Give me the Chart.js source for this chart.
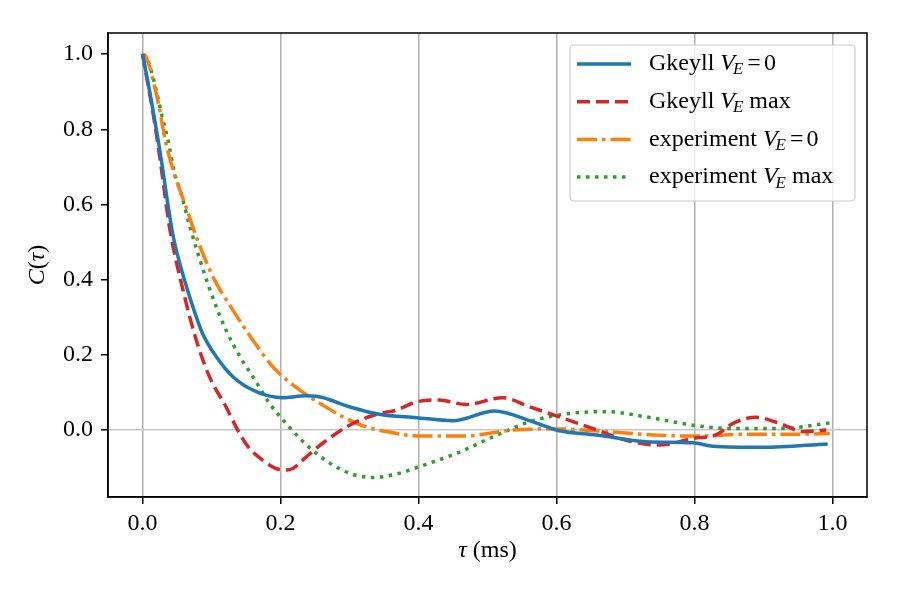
<!DOCTYPE html>
<html lang="en">
<head>
<meta charset="UTF-8">
<title>C(tau)</title>
<script src="https://cdn.jsdelivr.net/npm/chart.js@4.4.1/dist/chart.umd.min.js"></script>
<style>body{margin:0;background:#fff}</style>
</head>
<body>
<canvas id="chart" width="900" height="600"></canvas>
<script>
// valores (tau en ms)
const xTicks = [0, 0.2, 0.4, 0.6, 0.8, 1.0];
const yTicks = [0, 0.2, 0.4, 0.6, 0.8, 1.0];

const gk0Tau = [0, 0.010, 0.025, 0.044, 0.058, 0.073, 0.087, 0.107, 0.131, 0.165, 0.203, 0.237, 0.252, 0.300, 0.343, 0.397, 0.450, 0.510, 0.566, 0.604, 0.658, 0.730, 0.798, 0.827, 0.899, 0.993];
const gk0C   = [1.0, 0.904, 0.745, 0.520, 0.417, 0.328, 0.257, 0.195, 0.142, 0.102, 0.086, 0.091, 0.090, 0.062, 0.042, 0.033, 0.025, 0.051, 0.022, -0.002, -0.013, -0.031, -0.034, -0.043, -0.046, -0.037];

const gkMaxTau = [0, 0.005, 0.017, 0.027, 0.039, 0.061, 0.078, 0.097, 0.121, 0.138, 0.153, 0.174, 0.199, 0.208, 0.218, 0.237, 0.261, 0.300, 0.343, 0.368, 0.397, 0.430, 0.469, 0.522, 0.561, 0.604, 0.653, 0.701, 0.749, 0.798, 0.831, 0.856, 0.889, 0.923, 0.957, 0.991];
const gkMaxC   = [1.0, 0.949, 0.824, 0.700, 0.541, 0.355, 0.239, 0.142, 0.062, 0.000, -0.044, -0.080, -0.105, -0.106, -0.102, -0.072, -0.035, 0.013, 0.044, 0.053, 0.075, 0.080, 0.068, 0.086, 0.062, 0.035, 0.004, -0.027, -0.040, -0.022, -0.013, 0.018, 0.034, 0.018, -0.004, 0.000];

const exp0Tau = [0, 0.005, 0.022, 0.034, 0.049, 0.063, 0.078, 0.102, 0.131, 0.160, 0.189, 0.218, 0.257, 0.310, 0.353, 0.406, 0.464, 0.537, 0.604, 0.672, 0.740, 0.802, 0.875, 0.947, 0.996];
const exp0C   = [1.0, 0.993, 0.878, 0.762, 0.665, 0.594, 0.514, 0.408, 0.319, 0.239, 0.168, 0.120, 0.071, 0.018, -0.004, -0.016, -0.016, 0.000, 0.003, -0.004, -0.013, -0.016, -0.011, -0.011, -0.009];

const expMaxTau = [0, 0.010, 0.022, 0.029, 0.037, 0.046, 0.056, 0.068, 0.097, 0.121, 0.143, 0.160, 0.184, 0.206, 0.228, 0.249, 0.276, 0.305, 0.334, 0.368, 0.411, 0.455, 0.508, 0.561, 0.614, 0.672, 0.730, 0.798, 0.851, 0.923, 0.996];
const expMaxC   = [1.0, 0.971, 0.887, 0.829, 0.771, 0.687, 0.629, 0.545, 0.377, 0.266, 0.190, 0.142, 0.071, 0.022, -0.022, -0.058, -0.093, -0.118, -0.126, -0.117, -0.091, -0.062, -0.018, 0.022, 0.043, 0.049, 0.035, 0.013, 0.004, 0.004, 0.019];

const legendPre  = ['Gkeyll ', 'Gkeyll ', 'experiment ', 'experiment '];
const legendPost = ['=0', ' max', '=0', ' max'];

const SERIF = "'Liberation Serif', 'DejaVu Serif', serif";
const FS = 24;

function pts(xs, ys) {
    return xs.map((x, i) => ({ x: x, y: ys[i] }));
}

function serie(xs, ys, color, dash) {
    return {
        data: pts(xs, ys),
        borderColor: color,
        borderWidth: 3.5,
        borderDash: dash,
        borderCapStyle: 'butt',
        pointRadius: 0,
        fill: false,
        cubicInterpolationMode: 'monotone'
    };
}

// texto tipo "V_E"
function drawMath(ctx, x, y, pre, post) {
    ctx.textBaseline = 'middle';
    ctx.textAlign = 'left';
    ctx.font = FS + 'px ' + SERIF;
    ctx.fillText(pre, x, y);
    x += ctx.measureText(pre).width;
    ctx.font = 'italic ' + FS + 'px ' + SERIF;
    ctx.fillText('V', x, y);
    x += ctx.measureText('V').width - 2;
    ctx.font = 'italic 17px ' + SERIF;
    ctx.fillText('E', x, y + 6);
    x += ctx.measureText('E').width;
    ctx.font = FS + 'px ' + SERIF;
    if (post === '=0') {
        x += 4;
        ctx.fillText('=', x, y);
        x += ctx.measureText('=').width + 3;
        ctx.fillText('0', x, y);
    } else {
        ctx.fillText(post, x, y);
    }
}

const decoPlugin = {
    id: 'deco',
    afterDraw(chart) {
        const ctx = chart.ctx;
        const a = chart.chartArea;
        ctx.save();
        // marco
        ctx.strokeStyle = '#000';
        ctx.lineWidth = 1.5;
        ctx.strokeRect(a.left, a.top, a.right - a.left, a.bottom - a.top);

        // titulos de ejes
        ctx.fillStyle = '#000';
        ctx.textBaseline = 'middle';
        ctx.font = 'italic ' + FS + 'px ' + SERIF;
        const wTau = ctx.measureText('τ').width;
        ctx.font = FS + 'px ' + SERIF;
        const wMs = ctx.measureText(' (ms)').width;
        let xt = (a.left + a.right) / 2 - (wTau + wMs) / 2;
        ctx.textAlign = 'left';
        ctx.font = 'italic ' + FS + 'px ' + SERIF;
        ctx.fillText('τ', xt, 551);
        ctx.font = FS + 'px ' + SERIF;
        ctx.fillText(' (ms)', xt + wTau, 551);

        ctx.save();
        ctx.translate(38, (a.top + a.bottom) / 2);
        ctx.rotate(-Math.PI / 2);
        const parts = [['C', true], ['(', false], ['τ', true], [')', false]];
        let tot = 0;
        parts.forEach(p => { ctx.font = (p[1] ? 'italic ' : '') + FS + 'px ' + SERIF; tot += ctx.measureText(p[0]).width; });
        let xp = -tot / 2;
        parts.forEach(p => {
            ctx.font = (p[1] ? 'italic ' : '') + FS + 'px ' + SERIF;
            ctx.fillText(p[0], xp, 0);
            xp += ctx.measureText(p[0]).width;
        });
        ctx.restore();

        // leyenda
        const bx = 570, by = 45, bw = 285, bh = 156;
        ctx.beginPath();
        ctx.roundRect(bx, by, bw, bh, 4);
        ctx.fillStyle = 'rgba(255,255,255,0.8)';
        ctx.fill();
        ctx.strokeStyle = '#cccccc';
        ctx.lineWidth = 1.2;
        ctx.stroke();

        chart.data.datasets.forEach((ds, i) => {
            const yy = 64 + i * 37.7;
            ctx.beginPath();
            ctx.setLineDash(ds.borderDash || []);
            ctx.strokeStyle = ds.borderColor;
            ctx.lineWidth = ds.borderWidth;
            ctx.lineCap = 'butt';
            ctx.moveTo(577, yy);
            ctx.lineTo(631, yy);
            ctx.stroke();
            ctx.setLineDash([]);
            ctx.fillStyle = '#000';
            drawMath(ctx, 649, yy, legendPre[i], legendPost[i]);
        });
        ctx.restore();
    }
};

const tickFont = { family: SERIF, size: FS };

new Chart(document.getElementById('chart').getContext('2d'), {
    type: 'line',
    data: {
        datasets: [
            serie(gk0Tau, gk0C, '#1f77b4', []),
            serie(gkMaxTau, gkMaxC, '#d62728', [13, 6]),
            serie(exp0Tau, exp0C, '#ff7f0e', [20, 5, 3.5, 5]),
            serie(expMaxTau, expMaxC, '#2ca02c', [3.5, 5.5])
        ]
    },
    options: {
        responsive: false,
        animation: false,
        layout: { padding: { top: 33, right: 33, left: 0, bottom: 0 } },
        plugins: { legend: { display: false }, tooltip: { enabled: false } },
        scales: {
            x: {
                type: 'linear',
                min: -0.05,
                max: 1.05,
                afterBuildTicks: s => { s.ticks = xTicks.map(v => ({ value: v })); },
                afterFit: s => { s.height = 103; },
                ticks: {
                    callback: v => v.toFixed(1),
                    font: tickFont,
                    color: '#000',
                    padding: 5,
                    maxRotation: 0
                },
                grid: {
                    color: '#b0b0b0',
                    lineWidth: 1.5,
                    tickColor: '#000',
                    tickLength: 7,
                    tickWidth: 1.5
                },
                border: { color: '#000', width: 1.5 }
            },
            y: {
                min: -0.178,
                max: 1.056,
                afterBuildTicks: s => { s.ticks = yTicks.map(v => ({ value: v })); },
                afterFit: s => { s.width = 108; },
                ticks: {
                    callback: v => v.toFixed(1),
                    font: tickFont,
                    color: '#000',
                    padding: 8
                },
                grid: {
                    color: c => (c.tick && c.tick.value === 0) ? '#c8c8c8' : 'rgba(0,0,0,0)',
                    lineWidth: 1.5,
                    tickColor: '#000',
                    tickLength: 7,
                    tickWidth: 1.5
                },
                border: { color: '#000', width: 1.5 }
            }
        }
    },
    plugins: [decoPlugin]
});
</script>
</body>
</html>
